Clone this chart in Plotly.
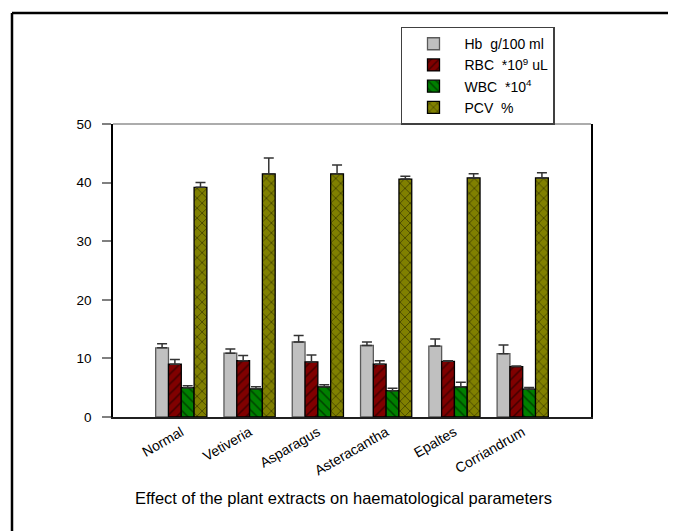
import plotly.graph_objects as go

categories = ["Normal", "Vetiveria", "Asparagus", "Asteracantha", "Epaltes", "Corriandrum"]
series_names = ["Hb\u00a0\u00a0g/100 ml", "RBC\u00a0\u00a0*10<sup>9</sup> uL", "WBC\u00a0\u00a0*10<sup>4</sup>", "PCV\u00a0\u00a0%"]

hb = [11.8, 10.9, 12.8, 12.2, 12.1, 10.8]
hb_err = [0.7, 0.7, 1.1, 0.6, 1.2, 1.5]
rbc = [9.0, 9.6, 9.4, 9.0, 9.5, 8.6]
rbc_err = [0.8, 0.9, 1.2, 0.6, 0.1, 0.1]
wbc = [5.0, 4.8, 5.15, 4.5, 5.15, 4.75]
wbc_err = [0.35, 0.35, 0.35, 0.4, 0.8, 0.3]
pcv = [39.2, 41.5, 41.5, 40.6, 40.8, 40.8]
pcv_err = [0.8, 2.7, 1.5, 0.5, 0.7, 0.9]

y_ticks = [0, 10, 20, 30, 40, 50]
caption = "Effect of the plant extracts on haematological parameters"

positions = list(range(1, len(categories) + 1))

styles = [
    dict(bg="#c0c0c0", shape="", line="#5a5a5a"),
    dict(bg="#800000", shape="/", line="#000000"),
    dict(bg="#008000", shape="\\", line="#000000"),
    dict(bg="#808000", shape="x", line="#000000"),
]
values = [hb, rbc, wbc, pcv]
errors = [hb_err, rbc_err, wbc_err, pcv_err]

fig = go.Figure()
for name, vals, errs, st in zip(series_names, values, errors, styles):
    fig.add_trace(go.Bar(
        x=positions, y=vals, name=name,
        marker=dict(
            color=st["bg"],
            line=dict(color=st["line"], width=1.3),
            pattern=dict(shape=st["shape"], fgcolor="#000000", bgcolor=st["bg"],
                         size=7, solidity=0.22, fillmode="overlay"),
        ),
        error_y=dict(type="data", array=errs, arrayminus=[0] * len(errs), symmetric=False,
                     color="#333333", thickness=1.5, width=5),
    ))

fig.update_layout(
    width=669, height=524,
    margin=dict(l=105, r=86, t=116, b=115, autoexpand=False),
    paper_bgcolor="white", plot_bgcolor="white",
    font=dict(family="Liberation Sans, Arial, sans-serif", color="black", size=12),
    barmode="group", bargap=0.25, bargroupgap=0,
    showlegend=True,
    legend=dict(x=0.6025, y=1.165, xanchor="left", yanchor="middle",
                bordercolor="#404040", borderwidth=1.5, bgcolor="white",
                font=dict(size=14), tracegroupgap=0, itemwidth=52),
    xaxis=dict(range=[0, 7], tickmode="array", tickvals=positions, ticktext=categories,
               tickangle=-30, showgrid=False, zeroline=False, showline=True,
               linecolor="#202020", linewidth=1.5, ticks="", tickfont=dict(size=14)),
    yaxis=dict(range=[0, 50], tickmode="array", tickvals=y_ticks, showgrid=False,
               zeroline=False, showline=True, mirror=True, linecolor="#000000",
               linewidth=1.5, ticks="outside", ticklen=9, tickwidth=1.5, tickcolor="#808080",
               tickfont=dict(size=13.5), ticklabelstandoff=8),
    annotations=[dict(text=caption, xref="paper", yref="paper", x=0.483, y=-0.276,
                      xanchor="center", yanchor="middle", showarrow=False,
                      font=dict(size=16.5))],
    shapes=[
        dict(type="line", xref="paper", yref="paper", x0=0, x1=1, y0=1, y1=1,
             line=dict(color="#909090", width=1.5)),
        dict(type="line", xref="paper", yref="paper", x0=-0.2113, x1=1.2, y0=1.379, y1=1.379,
             line=dict(color="black", width=2.5)),
        dict(type="line", xref="paper", yref="paper", x0=-0.2113, x1=-0.2113, y0=1.379, y1=-0.4,
             line=dict(color="black", width=2.5)),
    ],
)

fig.write_html("out.html")
